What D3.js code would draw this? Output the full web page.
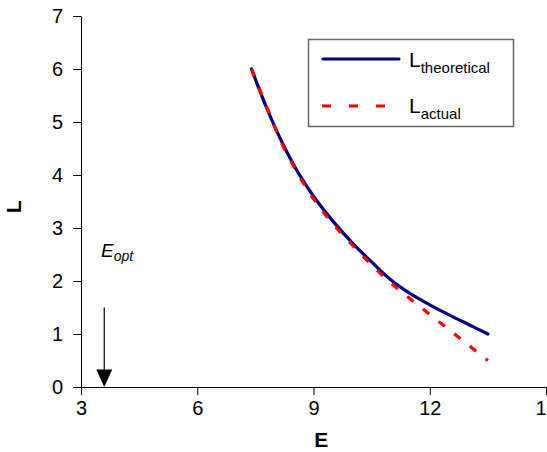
<!DOCTYPE html>
<html>
<head>
<meta charset="utf-8">
<script src="https://cdn.jsdelivr.net/npm/d3@7"></script>
<style>
  body { margin: 0; background: #fff; }
  text { font-family: "Liberation Sans", Arial, sans-serif; }
</style>
</head>
<body>
<div id="chart"></div>
<script>
// values
const energy = [7.4, 7.8, 8.2, 8.6, 9.0, 9.5, 10.0, 10.5, 11.0, 11.5, 12.0, 12.5, 13.0, 13.5];
const lTheoretical = [6.0, 5.25, 4.6, 4.05, 3.6, 3.13, 2.72, 2.36, 2.02, 1.76, 1.55, 1.36, 1.18, 1.0];
const lActual = [6.0, 5.27, 4.57, 4.02, 3.55, 3.08, 2.68, 2.3, 1.96, 1.66, 1.37, 1.08, 0.79, 0.5];
const xTicks = [3, 6, 9, 12, 15];
const yTicks = [0, 1, 2, 3, 4, 5, 6, 7];
const eOpt = 3.6;

const width = 547, height = 452;
const margin = { top: 16, right: 1, bottom: 65, left: 81 };

const svg = d3.select('#chart').append('svg').attr('width', width).attr('height', height);

const x = d3.scaleLinear().domain([3, 15]).range([margin.left, width - margin.right]);
const y = d3.scaleLinear().domain([0, 7]).range([height - margin.bottom, margin.top]);

// axes
const xAxis = svg.append('g')
  .attr('transform', `translate(0,${y(0)})`)
  .call(d3.axisBottom(x).tickValues(xTicks).tickFormat(d3.format('d'))
    .tickSize(8).tickPadding(6).tickSizeOuter(0));
const yAxis = svg.append('g')
  .attr('transform', `translate(${x(3)},0)`)
  .call(d3.axisLeft(y).tickValues(yTicks).tickFormat(d3.format('d'))
    .tickSize(8).tickPadding(10).tickSizeOuter(0));

[xAxis, yAxis].forEach((g) => {
  g.select('.domain').attr('stroke', '#000').attr('stroke-width', 1);
  g.selectAll('.tick line').attr('stroke', '#000');
  g.selectAll('.tick text').attr('font-size', 20).attr('fill', '#000')
    .style('font-family', '"Liberation Sans", Arial, sans-serif');
});

// axis titles
svg.append('text').attr('x', x(9.2)).attr('y', 447).attr('text-anchor', 'middle')
  .attr('font-size', 21).attr('font-weight', 'bold').text('E');
svg.append('text').attr('transform', `translate(21,${y(3.4)}) rotate(-90)`)
  .attr('text-anchor', 'middle').attr('font-size', 21).attr('font-weight', 'bold').text('L');

// curves
const line = d3.line().x((d) => x(d[0])).y((d) => y(d[1])).curve(d3.curveCatmullRom);

svg.append('path').datum(energy.map((e, i) => [e, lTheoretical[i]]))
  .attr('d', line).attr('fill', 'none').attr('stroke', '#00007f')
  .attr('stroke-width', 3.2).attr('stroke-linecap', 'round');

svg.append('path').datum(energy.map((e, i) => [e, lActual[i]]))
  .attr('d', line).attr('fill', 'none').attr('stroke', '#ff0000')
  .attr('stroke-width', 3.2).attr('stroke-dasharray', '8,12');

// E_opt arrow
const arrowX = x(eOpt);
svg.append('line').attr('x1', arrowX).attr('x2', arrowX)
  .attr('y1', y(1.5)).attr('y2', y(0.3)).attr('stroke', '#000').attr('stroke-width', 1.2);
svg.append('path')
  .attr('d', `M${arrowX - 8},${y(0.33)} L${arrowX + 8},${y(0.33)} L${arrowX},${y(0)} Z`)
  .attr('fill', '#000');
const eoptText = svg.append('text').attr('x', 101).attr('y', 257)
  .attr('font-size', 19).attr('font-style', 'italic');
eoptText.append('tspan').text('E');
eoptText.append('tspan').attr('font-size', 14).attr('dy', 4).text('opt');

// legend
const legend = svg.append('g');
legend.append('rect').attr('x', 308.5).attr('y', 39.5).attr('width', 205).attr('height', 87)
  .attr('fill', '#fff').attr('stroke', '#666').attr('stroke-width', 1.5);
legend.append('line').attr('x1', 323).attr('x2', 399).attr('y1', 59).attr('y2', 59)
  .attr('stroke', '#00007f').attr('stroke-width', 3.2).attr('stroke-linecap', 'round');
legend.append('line').attr('x1', 322).attr('x2', 385).attr('y1', 106).attr('y2', 106)
  .attr('stroke', '#ff0000').attr('stroke-width', 3.2).attr('stroke-dasharray', '9,18');

const leg1 = legend.append('text').attr('x', 409).attr('y', 67).attr('font-size', 21);
leg1.append('tspan').text('L');
leg1.append('tspan').attr('font-size', 15).attr('dy', 6).text('theoretical');
const leg2 = legend.append('text').attr('x', 409).attr('y', 113).attr('font-size', 21);
leg2.append('tspan').text('L');
leg2.append('tspan').attr('font-size', 15).attr('dy', 6).text('actual');
</script>
</body>
</html>
